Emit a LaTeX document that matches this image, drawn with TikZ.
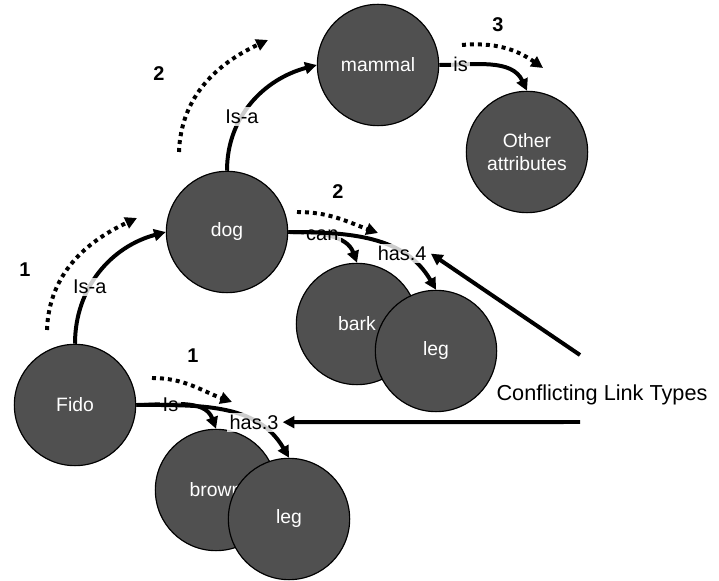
\documentclass[tikz,border=0pt]{standalone}
\usepackage{fontspec}
\setmainfont{Liberation Sans}
\usetikzlibrary{arrows.meta}
\definecolor{nodegray}{RGB}{80,80,80}
\tikzset{
    concept/.style={circle,draw=black,line width=1pt,fill=nodegray,text=white,
        minimum size=3.64cm,inner sep=0pt,font=\fontsize{16.5}{20}\selectfont},
    link/.style={line width=3.4pt,-{Triangle[length=10pt,width=10pt]}},
    linklabel/.style={fill=white,fill opacity=0.8,text opacity=1,inner sep=2pt,
        font=\fontsize{17}{19}\selectfont},
    hop/.style={line width=3.4pt,dash pattern=on 3.4pt off 3.4pt,
        -{Triangle[length=10pt,width=10pt]}},
    hopnum/.style={font=\bfseries\fontsize{17}{19}\selectfont},
}
\begin{document}
\begin{tikzpicture}[x=0.03cm,y=0.03cm]
            \useasboundingbox (0,0) rectangle (719,581);
            \node[concept] (fido) at (75,176) {Fido};
            \node[concept] (dog) at (227,349) {dog};
            \node[concept] (mammal) at (378,516) {mammal};
            \node[concept,align=center] (other) at (527,429) {Other\\attributes};
            \node[concept] (bark) at (357,257) {bark};
            \node[concept] (legA) at (436,230) {leg};
            \node[concept] (brown) at (216,91) {brown};
            \node[concept] (legB) at (289,62) {leg};
            \draw[link] (fido.north) to[out=90,in=195] node[linklabel,pos=0.38]{Is-a} (dog.west);
            \draw[link] (dog.north) to[out=90,in=195] node[linklabel,pos=0.38]{Is-a} (mammal.west);
            \draw[link] (mammal.east) to[out=0,in=115] node[linklabel,pos=0.2]{is} (other.north);
            \draw[link] (dog.east) to[out=0,in=110] node[linklabel,pos=0.4]{can} (bark.north);
            \draw[link] (dog.east) to[out=0,in=120] node[linklabel,pos=0.7] (has4) {has.4} (legA.north);
            \draw[link] (fido.east) to[out=0,in=110] node[linklabel,pos=0.35]{Is} (brown.north);
            \draw[link] (fido.east) to[out=0,in=120] node[linklabel,pos=0.7] (has3) {has.3} (legB.north);
            % traversal order
            \coordinate (h1a) at (47,251);
            \coordinate (h1b) at (137,363);
            \coordinate (h2a) at (179,429);
            \coordinate (h2b) at (268,541);
            \coordinate (h3a) at (462,536);
            \coordinate (h3b) at (543,513);
            \coordinate (h4a) at (297,369);
            \coordinate (h4b) at (378,348);
            \coordinate (h5a) at (152,203);
            \coordinate (h5b) at (232,179);
            \draw[hop] (h1a) to[out=88,in=205] (h1b);
            \draw[hop] (h2a) to[out=88,in=205] (h2b);
            \draw[hop] (h3a) to[out=5,in=145] (h3b);
            \draw[hop] (h4a) to[out=0,in=160] (h4b);
            \draw[hop] (h5a) to[out=0,in=160] (h5b);
            \node[hopnum] (n1a) at (25,311) {1};
            \node[hopnum] (n2a) at (159,507) {2};
            \node[hopnum] (n3) at (498,556) {3};
            \node[hopnum] (n2b) at (338,389) {2};
            \node[hopnum] (n1b) at (193,225) {1};
            \node[font=\fontsize{18.5}{22}\selectfont] (conflict) at (602,186) {Conflicting Link Types};
            \coordinate (cfA) at (580,226);
            \coordinate (cfB) at (580,159);
            \draw[link] (cfA) -- (has4.east);
            \draw[link] (cfB) -- (has3);
        \end{tikzpicture}
\end{document}
